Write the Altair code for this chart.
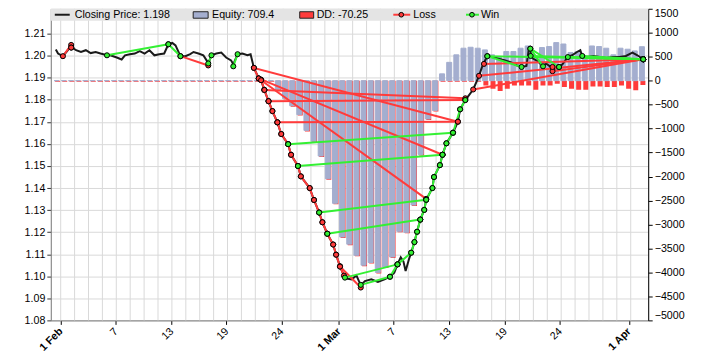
import altair as alt
import numpy as np
import pandas as pd

# ---------------- data ----------------
# x axis is in chart time units (bar based), labels as shown on the chart
TICK_T = [0, 7.93, 15.96, 23.85, 31.76, 40.0, 47.89, 55.89, 63.94, 71.83, 81.73]
TICK_LABELS = ["1 Feb", "7", "13", "19", "24", "1 Mar", "7", "13", "19", "24", "1 Apr"]
GRID_T = [float(v) for v in np.arange(0, 84, 2)]
PRICE_TICKS = [round(1.08 + 0.01 * i, 2) for i in range(14)]
EQUITY_TICKS = list(range(-5000, 1501, 500))

PRICE_T = [-0.70, -0.38, 0.32, 1.03, 1.51, 1.69, 2.21, 2.92, 3.62, 4.32,
           5.03, 5.73, 6.66, 7.14, 8.07, 8.77, 9.25, 9.96, 10.66, 11.37,
           12.07, 12.77, 13.48, 14.18, 14.89, 15.49, 16.06, 16.52, 17.23, 17.93,
           18.63, 19.11, 19.82, 20.52, 20.99, 21.23, 21.69, 22.39, 23.10, 23.80,
           24.51, 24.83, 25.45, 26.15, 26.86, 27.32, 27.79, 28.49, 28.83, 29.30,
           29.90, 30.46, 31.17, 31.73, 32.72, 33.14, 34.13, 34.55, 35.82, 36.44,
           37.18, 37.65, 38.35, 39.20, 39.62, 40.18, 40.75, 40.94, 41.87, 42.54,
           43.17, 43.76, 44.69, 45.63, 46.58, 47.37, 47.99, 48.45, 48.92, 49.30,
           49.62, 50.10, 50.42, 50.89, 51.27, 51.73, 52.30, 52.58, 53.48, 53.70,
           54.55, 54.93, 55.49, 56.44, 57.14, 57.46, 58.21, 59.34, 60.18, 60.70,
           61.37, 62.07, 63.00, 63.94, 64.89, 65.59, 66.30, 67.00, 67.32, 67.56,
           67.68, 67.93, 68.63, 69.39, 69.82, 70.75, 71.23, 71.69, 72.15, 72.96,
           73.56, 74.27, 74.75, 75.03, 75.68, 76.62, 77.56, 78.49, 79.44, 80.38,
           81.31, 82.25, 82.96, 83.80]
PRICE_V = [1.2028, 1.2010, 1.1998, 1.2025, 1.2052, 1.2037, 1.2025, 1.2017, 1.2025, 1.2012,
           1.2017, 1.2010, 1.2002, 1.2002, 1.1992, 1.1983, 1.2002, 1.2007, 1.2010, 1.2021,
           1.2010, 1.2025, 1.2002, 1.2007, 1.2010, 1.2052, 1.2058, 1.2047, 1.1998, 1.1998,
           1.2007, 1.2017, 1.2010, 1.2002, 1.1979, 1.1965, 1.2002, 1.2010, 1.2014, 1.1992,
           1.1979, 1.1961, 1.2007, 1.2010, 1.2002, 1.2007, 1.1946, 1.1897, 1.1889, 1.1844,
           1.1794, 1.1749, 1.1698, 1.1645, 1.1599, 1.1551, 1.1500, 1.1453, 1.1400, 1.1346,
           1.1289, 1.1245, 1.1193, 1.1144, 1.1098, 1.1045, 1.1003, 1.0991, 1.0986, 1.1004,
           1.0959, 1.0978, 1.0986, 1.0974, 1.0986, 1.0998, 1.1016, 1.1054, 1.1086, 1.1068,
           1.1024, 1.1077, 1.1107, 1.1155, 1.1202, 1.1257, 1.1301, 1.1347, 1.1400, 1.1450,
           1.1504, 1.1551, 1.1603, 1.1651, 1.1701, 1.1757, 1.1799, 1.1847, 1.1909, 1.1957,
           1.1998, 1.1994, 1.1987, 1.1979, 1.1969, 1.1957, 1.1949, 1.1954, 1.2025, 1.2032,
           1.1998, 1.1987, 1.1975, 1.1952, 1.1965, 1.1943, 1.1942, 1.1949, 1.1960, 1.1994,
           1.2002, 1.2017, 1.2025, 1.1999, 1.1994, 1.1999, 1.1994, 1.1990, 1.1994, 1.1994,
           1.1999, 1.2014, 1.2002, 1.1984]

# equity / drawdown bars (one per bar period)
BAR_T0 = -0.5868
BAR_DT = 1.0268
EQ_NEG = [-181, -372, -522, -708, -1037, -1263, -1572, -2045, -2559, -3260, -3410, -3643,
          -3849, -3793, -3999, -3884, -3678, -3143, -3164, -2594, -1539, -798, -621]
EQ_POS = [142, 382, 539, 677, 697, 677, 642, 539, 506, 609, 609, 677, 724, 506, 691, 712,
          794, 765, 588, 609, 506, 724, 712, 677, 539, 677, 656, 621, 709]
DD_POS = [0, 0, 0, 0, 0, 0, -78, -146, -193, -146, -78, -78, -78, -167, -78, -78, -43,
          -111, -146, -167, -167, -99, -99, -111, -111, -78, -146, -181, -70]
EQUITY = [0] * 31 + EQ_NEG + EQ_POS
DRAWDOWN = [0] * 31 + EQ_NEG + DD_POS

# trades: chains of consecutive trades along the fall and the recovery
DECLINE_T = [27.79, 28.49, 28.83, 29.30, 29.90, 30.46, 31.17, 31.73, 32.72, 33.14, 34.13,
             34.55, 35.82, 36.44, 37.18, 37.65, 38.35, 39.20, 39.62, 40.18, 40.75]
DECLINE_P = [1.1945, 1.1897, 1.1891, 1.1845, 1.1794, 1.1749, 1.1698, 1.1645, 1.1599, 1.1551,
             1.1500, 1.1453, 1.1400, 1.1346, 1.1289, 1.1245, 1.1193, 1.1144, 1.1098, 1.1045,
             1.1003]
RECOVERY_T = [47.37, 48.45, 50.42, 50.89, 51.27, 51.73, 52.30, 52.58, 53.48, 53.70, 54.55,
              54.93, 55.49, 56.44, 57.46, 58.21]
RECOVERY_P = [1.0998, 1.1054, 1.1107, 1.1155, 1.1202, 1.1257, 1.1301, 1.1347, 1.1400, 1.1450,
              1.1504, 1.1551, 1.1603, 1.1651, 1.1757, 1.1799]

# other single trades
TRADE_IN_T = [0.32, 1.51, 6.66, 15.49, 17.23, 21.23, 24.83, 40.18,
              29.30, 29.90, 28.49, 31.17, 28.83, 27.79,
              32.72, 34.13, 37.18, 38.35, 40.89, 43.17,
              59.34, 60.18, 60.89, 70.75, 70.75,
              61.37, 61.37, 67.56, 67.56, 67.61, 72.96, 75.03]
TRADE_IN_P = [1.1998, 1.2037, 1.2002, 1.2052, 1.1998, 1.1965, 1.1952, 1.1044,
              1.1845, 1.1794, 1.1897, 1.1698, 1.1889, 1.1945,
              1.1599, 1.1500, 1.1289, 1.1193, 1.0994, 1.0961,
              1.1847, 1.1909, 1.1963, 1.1930, 1.1949,
              1.1998, 1.1998, 1.2032, 1.2032, 1.1999, 1.1994, 1.1999]
TRADE_OUT_T = [1.51, 1.51, 15.49, 17.23, 21.23, 21.69, 25.45, 43.17,
               58.21, 58.21, 54.93, 57.14, 52.58, 57.14,
               56.44, 54.93, 52.58, 51.73, 48.45, 47.37,
               83.8, 83.8, 83.8, 83.8, 71.69,
               66.30, 83.8, 69.39, 71.69, 83.8, 83.8, 83.8]
TRADE_OUT_P = [1.2049, 1.2037, 1.2052, 1.1998, 1.1956, 1.2002, 1.2007, 1.0949,
               1.1807, 1.1799, 1.1551, 1.1701, 1.1351, 1.1701,
               1.1651, 1.1551, 1.1347, 1.1257, 1.1054, 1.0998,
               1.1984, 1.1984, 1.1984, 1.1984, 1.1949,
               1.1949, 1.1984, 1.1952, 1.1949, 1.1984, 1.1984, 1.1984]
TRADE_RESULT = ["Loss", "Loss", "Win", "Win", "Loss", "Win", "Win", "Loss",
                "Loss", "Loss", "Loss", "Loss", "Loss", "Loss",
                "Win", "Win", "Win", "Win", "Win", "Win",
                "Loss", "Loss", "Loss", "Loss", "Loss",
                "Win", "Win", "Win", "Win", "Win", "Win", "Win"]

LEGEND_LABELS = ["Closing Price: 1.198", "Equity: 709.4", "DD: -70.25", "Loss", "Win"]

# ---------------- styles ----------------
RED = "#ff3b3b"
GREEN = "#33f033"
EQ_COL = "#a4aecf"
GRID_COL = "#d9d9d9"
FONT = "Liberation Sans"

# ---------------- frames ----------------
rows = []
tid = 0
for i in range(len(DECLINE_T) - 1):
    rows.append((tid, DECLINE_T[i], DECLINE_P[i], "Loss"))
    rows.append((tid, DECLINE_T[i + 1], DECLINE_P[i + 1], "Loss"))
    tid += 1
for i in range(len(RECOVERY_T) - 1):
    rows.append((tid, RECOVERY_T[i], RECOVERY_P[i], "Win"))
    rows.append((tid, RECOVERY_T[i + 1], RECOVERY_P[i + 1], "Win"))
    tid += 1
for a, b, c, d, r in zip(TRADE_IN_T, TRADE_IN_P, TRADE_OUT_T, TRADE_OUT_P, TRADE_RESULT):
    rows.append((tid, a, b, r))
    rows.append((tid, c, d, r))
    tid += 1
trades = pd.DataFrame(rows, columns=["id", "t", "p", "res"])
loss_df = trades[trades.res == "Loss"]
win_df = trades[trades.res == "Win"]

price_df = pd.DataFrame({"t": PRICE_T, "v": PRICE_V})
n_bars = len(EQUITY)
bars_df = pd.DataFrame({
    "t": [BAR_T0 + BAR_DT * k for k in range(n_bars)],
    "eq": EQUITY,
    "dd": DRAWDOWN,
    "base": [0] * n_bars,
})
grid_df = pd.DataFrame({"t": GRID_T})

# ---------------- scales / axes ----------------
labels_js = "[" + ",".join("'%s'" % s for s in TICK_LABELS) + "]"
vals_js = "[" + ",".join(str(v) for v in TICK_T) + "]"
month_js = "[" + ",".join(str(v) for v, l in zip(TICK_T, TICK_LABELS) if " " in l) + "]"

x_scale = alt.Scale(domain=[-0.704, 83.8], nice=False, zero=False)
x_axis = alt.Axis(
    values=TICK_T,
    labelExpr=f"{labels_js}[indexof({vals_js}, datum.value)]",
    labelAngle=315, labelAlign="right", labelBaseline="middle",
    labelFontSize=10.7, labelFont=FONT, labelColor="#000",
    labelFontWeight={"condition": {"test": f"indexof({month_js}, datum.value) >= 0",
                                   "value": "bold"}, "value": "normal"},
    labelPadding=5, labelOverlap=False,
    tickSize=4, tickColor="#000", domainColor="#808080",
    grid=False, title=None,
)


def X():
    return alt.X("t:Q", scale=x_scale, axis=x_axis)


p_scale = alt.Scale(domain=[1.08, 1.2213], nice=False, zero=False)
p_axis = alt.Axis(orient="left", values=PRICE_TICKS, format=".2f", grid=True,
                  gridColor=GRID_COL, gridWidth=1, domainColor="#808080",
                  tickColor="#333", tickSize=4, labelPadding=2, labelFontSize=10.7,
                  labelFont=FONT, labelColor="#000", title=None)
e_scale = alt.Scale(domain=[-5000, 1500], nice=False, zero=False)
e_axis = alt.Axis(orient="right", values=EQUITY_TICKS, format="d", grid=False,
                  labelFlush=True, domainColor="#000", tickColor="#000", tickSize=4,
                  labelPadding=2, labelFontSize=10.7, labelFont=FONT, labelColor="#000",
                  title=None)

# ---------------- equity layer ----------------
vgrid = alt.Chart(grid_df).mark_rule(color=GRID_COL, strokeWidth=1).encode(x=X())
dd_bars = alt.Chart(bars_df).mark_bar(size=5, color=RED, xOffset=1, yOffset=1, clip=True).encode(
    x=X(), y=alt.Y("dd:Q", scale=e_scale, axis=e_axis), y2="base:Q")
eq_bars = alt.Chart(bars_df).mark_bar(size=5, color=EQ_COL, stroke=EQ_COL, strokeWidth=1,
                                      clip=True).encode(
    x=X(), y=alt.Y("eq:Q", scale=e_scale, axis=e_axis), y2="base:Q")
equity_layer = alt.layer(vgrid, dd_bars, eq_bars)

# ---------------- price layer ----------------
price_line = alt.Chart(price_df).mark_line(color="#1a1a1a", strokeWidth=2).encode(
    x=X(), y=alt.Y("v:Q", scale=p_scale, axis=p_axis))


def trade_lines(df, col):
    return alt.Chart(df).mark_line(color=col, strokeWidth=2).encode(
        x=X(), y=alt.Y("p:Q", scale=p_scale, axis=p_axis), detail="id:N")


def trade_dots(df, col):
    return alt.Chart(df).mark_point(filled=True, shape="circle", size=26, fill=col,
                                    stroke="#000", strokeWidth=1, opacity=1).encode(
        x=X(), y=alt.Y("p:Q", scale=p_scale, axis=p_axis))


one = pd.DataFrame({"a": [0]})
band = alt.Chart(one).mark_rect(color="#e4e4e4").encode(
    x=alt.value(0), x2=alt.value(600), y=alt.value(0), y2=alt.value(12))


def leg_text(label, x):
    return alt.Chart(pd.DataFrame({"label": [label]})).mark_text(
        align="left", baseline="middle", fontSize=10.7, font=FONT, color="#000").encode(
        x=alt.value(x), y=alt.value(6.5), text="label:N")


def leg_rule(x1, x2, col):
    return alt.Chart(one).mark_rule(color=col, strokeWidth=2).encode(
        x=alt.value(x1), x2=alt.value(x2), y=alt.value(6))


def leg_box(x1, x2, col):
    return alt.Chart(one).mark_rect(color=col, stroke="#222", strokeWidth=1).encode(
        x=alt.value(x1), x2=alt.value(x2), y=alt.value(3), y2=alt.value(9.5))


def leg_dot(x, col):
    return alt.Chart(one).mark_point(filled=True, shape="circle", size=22, fill=col,
                                     stroke="#000", strokeWidth=1, opacity=1).encode(
        x=alt.value(x), y=alt.value(6))


legend = [
    band,
    leg_rule(4, 19, "#1a1a1a"), leg_text(LEGEND_LABELS[0], 24),
    leg_box(143, 158, EQ_COL), leg_text(LEGEND_LABELS[1], 162),
    leg_box(250, 264, RED), leg_text(LEGEND_LABELS[2], 267),
    leg_rule(344, 361, RED), leg_dot(352, RED), leg_text(LEGEND_LABELS[3], 364),
    leg_rule(417, 430, GREEN), leg_dot(423, GREEN), leg_text(LEGEND_LABELS[4], 432),
]

price_layer = alt.layer(
    price_line,
    trade_lines(loss_df, RED), trade_lines(win_df, GREEN),
    trade_dots(loss_df, RED), trade_dots(win_df, GREEN),
    *legend,
)

chart = alt.layer(equity_layer, price_layer).resolve_scale(y="independent").properties(
    width=600, height=313,
    autosize=alt.AutoSizeParams(type="none"),
    padding={"left": 43, "top": 0, "right": 45, "bottom": 33},
).configure_view(stroke=None).configure(font=FONT)

chart.save("out.html", embed_options={"renderer": "svg", "actions": False})
